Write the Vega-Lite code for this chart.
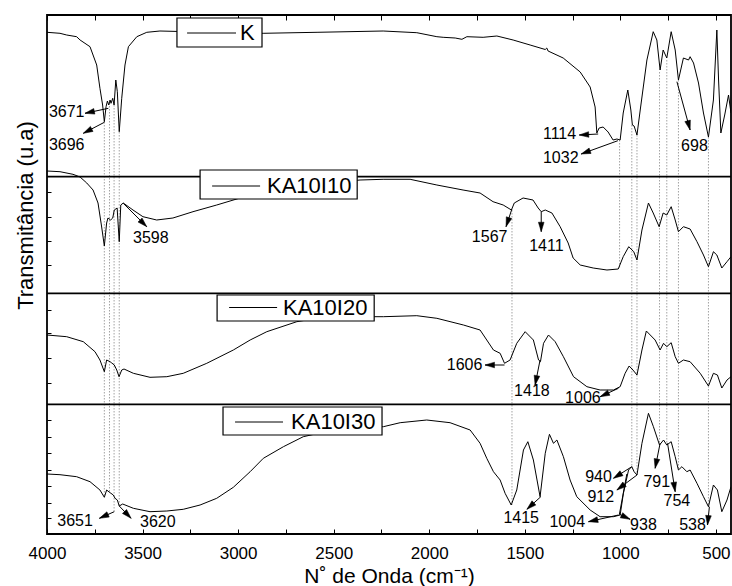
{
  "$schema": "https://vega.github.io/schema/vega-lite/v6.json",
  "width": 684,
  "height": 519,
  "autosize": {"type": "none"},
  "padding": {"left": 47, "top": 15, "right": 1, "bottom": 52},
  "background": "white",
  "config": {
    "font": "Liberation Sans",
    "view": {"stroke": "black", "strokeWidth": 1.8}
  },
  "datasets": {
    "spectra": [
      {"s":"K","w":4000,"t":501.7},{"s":"K","w":3932,"t":500.7},{"s":"K","w":3897,"t":499},{"s":"K","w":3845,"t":497.3},{"s":"K","w":3827,"t":494},{"s":"K","w":3775,"t":487.3},{"s":"K","w":3740,"t":469},{"s":"K","w":3723,"t":445.7},{"s":"K","w":3709,"t":429},{"s":"K","w":3700,"t":412.3},{"s":"K","w":3691,"t":427.3},{"s":"K","w":3684,"t":433},{"s":"K","w":3677,"t":429},{"s":"K","w":3670,"t":434},{"s":"K","w":3665,"t":430.7},{"s":"K","w":3656,"t":435.7},{"s":"K","w":3649,"t":429},{"s":"K","w":3640,"t":454},{"s":"K","w":3632,"t":442.3},{"s":"K","w":3622,"t":402.3},{"s":"K","w":3609,"t":435.7},{"s":"K","w":3592,"t":469},{"s":"K","w":3574,"t":487.3},{"s":"K","w":3530,"t":497.3},{"s":"K","w":3478,"t":501.7},{"s":"K","w":3409,"t":503},{"s":"K","w":3199,"t":502},{"s":"K","w":2869,"t":500.7},{"s":"K","w":2587,"t":501.7},{"s":"K","w":2241,"t":503},{"s":"K","w":2065,"t":501.3},{"s":"K","w":1960,"t":497.3},{"s":"K","w":1927,"t":496.7},{"s":"K","w":1864,"t":496},{"s":"K","w":1829,"t":494.7},{"s":"K","w":1803,"t":497.3},{"s":"K","w":1718,"t":496.7},{"s":"K","w":1646,"t":498},{"s":"K","w":1561,"t":494},{"s":"K","w":1472,"t":489},{"s":"K","w":1393,"t":484.5},{"s":"K","w":1385,"t":486},{"s":"K","w":1378,"t":483},{"s":"K","w":1299,"t":476},{"s":"K","w":1210,"t":462},{"s":"K","w":1158,"t":447},{"s":"K","w":1132,"t":427},{"s":"K","w":1123,"t":401},{"s":"K","w":1111,"t":406},{"s":"K","w":1090,"t":407},{"s":"K","w":1064,"t":402},{"s":"K","w":1038,"t":394},{"s":"K","w":1018,"t":395},{"s":"K","w":1001,"t":394},{"s":"K","w":985,"t":421},{"s":"K","w":961,"t":444},{"s":"K","w":945,"t":424},{"s":"K","w":937,"t":409},{"s":"K","w":928,"t":408},{"s":"K","w":913,"t":399},{"s":"K","w":896,"t":424},{"s":"K","w":861,"t":474},{"s":"K","w":828,"t":502.3},{"s":"K","w":809,"t":494},{"s":"K","w":792,"t":464},{"s":"K","w":776,"t":484},{"s":"K","w":757,"t":476},{"s":"K","w":734,"t":502.3},{"s":"K","w":713,"t":484},{"s":"K","w":696,"t":454},{"s":"K","w":670,"t":476},{"s":"K","w":643,"t":474},{"s":"K","w":635,"t":477.3},{"s":"K","w":617,"t":471},{"s":"K","w":591,"t":451},{"s":"K","w":565,"t":421},{"s":"K","w":539,"t":397},{"s":"K","w":513,"t":434},{"s":"K","w":495,"t":504},{"s":"K","w":486,"t":454},{"s":"K","w":474,"t":401},{"s":"K","w":454,"t":419},{"s":"K","w":434,"t":439},{"s":"K","w":421,"t":421},

      {"s":"KA10I10","w":4000,"t":363},{"s":"KA10I10","w":3932,"t":362.3},{"s":"KA10I10","w":3864,"t":359.7},{"s":"KA10I10","w":3827,"t":357},{"s":"KA10I10","w":3792,"t":351},{"s":"KA10I10","w":3759,"t":344},{"s":"KA10I10","w":3733,"t":331},{"s":"KA10I10","w":3714,"t":307},{"s":"KA10I10","w":3700,"t":288},{"s":"KA10I10","w":3688,"t":311},{"s":"KA10I10","w":3681,"t":316},{"s":"KA10I10","w":3667,"t":314},{"s":"KA10I10","w":3656,"t":316},{"s":"KA10I10","w":3648,"t":324},{"s":"KA10I10","w":3633,"t":326},{"s":"KA10I10","w":3622,"t":292.3},{"s":"KA10I10","w":3614,"t":329},{"s":"KA10I10","w":3601,"t":331},{"s":"KA10I10","w":3550,"t":324},{"s":"KA10I10","w":3498,"t":317.3},{"s":"KA10I10","w":3426,"t":314},{"s":"KA10I10","w":3341,"t":316},{"s":"KA10I10","w":3236,"t":322.3},{"s":"KA10I10","w":3112,"t":329},{"s":"KA10I10","w":2990,"t":336},{"s":"KA10I10","w":2676,"t":348},{"s":"KA10I10","w":2362,"t":354},{"s":"KA10I10","w":2241,"t":354.7},{"s":"KA10I10","w":2100,"t":354.7},{"s":"KA10I10","w":1960,"t":349},{"s":"KA10I10","w":1823,"t":344},{"s":"KA10I10","w":1734,"t":341},{"s":"KA10I10","w":1666,"t":332.3},{"s":"KA10I10","w":1613,"t":329},{"s":"KA10I10","w":1570,"t":324},{"s":"KA10I10","w":1555,"t":331},{"s":"KA10I10","w":1509,"t":336},{"s":"KA10I10","w":1457,"t":334},{"s":"KA10I10","w":1430,"t":326},{"s":"KA10I10","w":1414,"t":322.3},{"s":"KA10I10","w":1393,"t":324},{"s":"KA10I10","w":1358,"t":321},{"s":"KA10I10","w":1315,"t":307.3},{"s":"KA10I10","w":1273,"t":291},{"s":"KA10I10","w":1247,"t":276},{"s":"KA10I10","w":1210,"t":269},{"s":"KA10I10","w":1142,"t":266},{"s":"KA10I10","w":1070,"t":264},{"s":"KA10I10","w":1011,"t":265},{"s":"KA10I10","w":985,"t":277.3},{"s":"KA10I10","w":956,"t":287.3},{"s":"KA10I10","w":930,"t":282.3},{"s":"KA10I10","w":913,"t":274},{"s":"KA10I10","w":887,"t":304},{"s":"KA10I10","w":853,"t":331},{"s":"KA10I10","w":828,"t":321},{"s":"KA10I10","w":797,"t":307.3},{"s":"KA10I10","w":776,"t":321},{"s":"KA10I10","w":757,"t":319},{"s":"KA10I10","w":734,"t":327.3},{"s":"KA10I10","w":713,"t":314},{"s":"KA10I10","w":696,"t":302.3},{"s":"KA10I10","w":670,"t":307.3},{"s":"KA10I10","w":635,"t":305},{"s":"KA10I10","w":599,"t":292.3},{"s":"KA10I10","w":565,"t":279},{"s":"KA10I10","w":539,"t":267.3},{"s":"KA10I10","w":513,"t":282.3},{"s":"KA10I10","w":495,"t":279},{"s":"KA10I10","w":469,"t":266},{"s":"KA10I10","w":442,"t":272.3},{"s":"KA10I10","w":421,"t":277.3},

      {"s":"KA10I20","w":4000,"t":199},{"s":"KA10I20","w":3897,"t":197.3},{"s":"KA10I20","w":3810,"t":192.3},{"s":"KA10I20","w":3749,"t":182.3},{"s":"KA10I20","w":3723,"t":174},{"s":"KA10I20","w":3700,"t":162.3},{"s":"KA10I20","w":3688,"t":174},{"s":"KA10I20","w":3670,"t":172.3},{"s":"KA10I20","w":3661,"t":171},{"s":"KA10I20","w":3648,"t":169},{"s":"KA10I20","w":3635,"t":164},{"s":"KA10I20","w":3623,"t":157.3},{"s":"KA10I20","w":3609,"t":164},{"s":"KA10I20","w":3597,"t":165},{"s":"KA10I20","w":3548,"t":160.7},{"s":"KA10I20","w":3461,"t":156.7},{"s":"KA10I20","w":3373,"t":157.3},{"s":"KA10I20","w":3287,"t":160.7},{"s":"KA10I20","w":3164,"t":170.7},{"s":"KA10I20","w":3025,"t":184},{"s":"KA10I20","w":2937,"t":194},{"s":"KA10I20","w":2850,"t":202.3},{"s":"KA10I20","w":2693,"t":212.3},{"s":"KA10I20","w":2588,"t":215.7},{"s":"KA10I20","w":2414,"t":217.3},{"s":"KA10I20","w":2240,"t":217.3},{"s":"KA10I20","w":2065,"t":218.3},{"s":"KA10I20","w":1960,"t":215.7},{"s":"KA10I20","w":1821,"t":209},{"s":"KA10I20","w":1734,"t":204},{"s":"KA10I20","w":1699,"t":194},{"s":"KA10I20","w":1664,"t":184},{"s":"KA10I20","w":1629,"t":180.7},{"s":"KA10I20","w":1606,"t":170.7},{"s":"KA10I20","w":1577,"t":174},{"s":"KA10I20","w":1542,"t":190.7},{"s":"KA10I20","w":1498,"t":202.3},{"s":"KA10I20","w":1455,"t":194},{"s":"KA10I20","w":1428,"t":174},{"s":"KA10I20","w":1418,"t":172.3},{"s":"KA10I20","w":1402,"t":190.7},{"s":"KA10I20","w":1376,"t":199},{"s":"KA10I20","w":1341,"t":192.3},{"s":"KA10I20","w":1298,"t":177.3},{"s":"KA10I20","w":1245,"t":157.3},{"s":"KA10I20","w":1175,"t":147.3},{"s":"KA10I20","w":1106,"t":144},{"s":"KA10I20","w":1036,"t":144},{"s":"KA10I20","w":1001,"t":147.3},{"s":"KA10I20","w":975,"t":160.7},{"s":"KA10I20","w":954,"t":168},{"s":"KA10I20","w":934,"t":164},{"s":"KA10I20","w":913,"t":159},{"s":"KA10I20","w":887,"t":184},{"s":"KA10I20","w":864,"t":203},{"s":"KA10I20","w":818,"t":194},{"s":"KA10I20","w":792,"t":184},{"s":"KA10I20","w":774,"t":190.7},{"s":"KA10I20","w":757,"t":187.3},{"s":"KA10I20","w":734,"t":191.3},{"s":"KA10I20","w":713,"t":177.3},{"s":"KA10I20","w":696,"t":170.7},{"s":"KA10I20","w":670,"t":174},{"s":"KA10I20","w":635,"t":172.3},{"s":"KA10I20","w":582,"t":160.7},{"s":"KA10I20","w":539,"t":148},{"s":"KA10I20","w":513,"t":160.7},{"s":"KA10I20","w":492,"t":159},{"s":"KA10I20","w":469,"t":146},{"s":"KA10I20","w":442,"t":154},{"s":"KA10I20","w":421,"t":157.3},

      {"s":"KA10I30","w":4000,"t":60},{"s":"KA10I30","w":3932,"t":59.3},{"s":"KA10I30","w":3845,"t":57.3},{"s":"KA10I30","w":3775,"t":52.3},{"s":"KA10I30","w":3723,"t":44},{"s":"KA10I30","w":3700,"t":36.7},{"s":"KA10I30","w":3688,"t":44},{"s":"KA10I30","w":3670,"t":41.3},{"s":"KA10I30","w":3653,"t":39},{"s":"KA10I30","w":3644,"t":35.7},{"s":"KA10I30","w":3632,"t":34},{"s":"KA10I30","w":3622,"t":28},{"s":"KA10I30","w":3604,"t":30},{"s":"KA10I30","w":3548,"t":25.7},{"s":"KA10I30","w":3461,"t":22.3},{"s":"KA10I30","w":3373,"t":23},{"s":"KA10I30","w":3287,"t":24.7},{"s":"KA10I30","w":3199,"t":29},{"s":"KA10I30","w":3112,"t":35.7},{"s":"KA10I30","w":3025,"t":46.7},{"s":"KA10I30","w":2937,"t":62.3},{"s":"KA10I30","w":2868,"t":75.7},{"s":"KA10I30","w":2763,"t":87.3},{"s":"KA10I30","w":2659,"t":97.3},{"s":"KA10I30","w":2502,"t":104},{"s":"KA10I30","w":2327,"t":107},{"s":"KA10I30","w":2240,"t":107.3},{"s":"KA10I30","w":2152,"t":111.3},{"s":"KA10I30","w":2013,"t":114},{"s":"KA10I30","w":1891,"t":111.3},{"s":"KA10I30","w":1786,"t":104},{"s":"KA10I30","w":1734,"t":90.7},{"s":"KA10I30","w":1699,"t":75.7},{"s":"KA10I30","w":1664,"t":62.3},{"s":"KA10I30","w":1629,"t":54},{"s":"KA10I30","w":1603,"t":40.7},{"s":"KA10I30","w":1571,"t":29},{"s":"KA10I30","w":1542,"t":44},{"s":"KA10I30","w":1507,"t":84},{"s":"KA10I30","w":1484,"t":92.3},{"s":"KA10I30","w":1455,"t":74},{"s":"KA10I30","w":1420,"t":37.3},{"s":"KA10I30","w":1393,"t":80.7},{"s":"KA10I30","w":1371,"t":99.7},{"s":"KA10I30","w":1350,"t":90.7},{"s":"KA10I30","w":1332,"t":94},{"s":"KA10I30","w":1298,"t":77.3},{"s":"KA10I30","w":1263,"t":54},{"s":"KA10I30","w":1228,"t":37.3},{"s":"KA10I30","w":1158,"t":24},{"s":"KA10I30","w":1106,"t":17.3},{"s":"KA10I30","w":1036,"t":17.3},{"s":"KA10I30","w":1001,"t":19},{"s":"KA10I30","w":984,"t":40.7},{"s":"KA10I30","w":957,"t":64},{"s":"KA10I30","w":940,"t":67.3},{"s":"KA10I30","w":928,"t":62.3},{"s":"KA10I30","w":913,"t":59},{"s":"KA10I30","w":887,"t":90.7},{"s":"KA10I30","w":853,"t":120.7},{"s":"KA10I30","w":827,"t":107.3},{"s":"KA10I30","w":795,"t":89},{"s":"KA10I30","w":774,"t":94},{"s":"KA10I30","w":757,"t":89},{"s":"KA10I30","w":734,"t":92.3},{"s":"KA10I30","w":713,"t":77.3},{"s":"KA10I30","w":696,"t":64},{"s":"KA10I30","w":678,"t":67.3},{"s":"KA10I30","w":652,"t":62.3},{"s":"KA10I30","w":635,"t":64},{"s":"KA10I30","w":599,"t":50.7},{"s":"KA10I30","w":565,"t":37.3},{"s":"KA10I30","w":539,"t":27.3},{"s":"KA10I30","w":513,"t":49},{"s":"KA10I30","w":492,"t":44},{"s":"KA10I30","w":469,"t":22.3},{"s":"KA10I30","w":442,"t":34},{"s":"KA10I30","w":421,"t":47.3}
    ],
    "vlines": [
      {"w":3700,"t":412,"t2":37},{"w":3673,"t":431,"t2":41},{"w":3649,"t":432,"t2":22},{"w":3622,"t":402,"t2":27},
      {"w":1567,"t":324,"t2":29},{"w":1004,"t":394,"t2":265},{"w":940,"t":409,"t2":67},{"w":913,"t":399,"t2":59},
      {"w":795,"t":462,"t2":91},{"w":757,"t":474,"t2":89},{"w":696,"t":454,"t2":64},{"w":539,"t":397,"t2":27}
    ],
    "seps": [
      {"w":4000,"w2":421,"t":357.3},{"w":4000,"w2":421,"t":240.7},{"w":4000,"w2":421,"t":129.7}
    ],
    "legbox": [
      {"w":3320,"w2":2875,"t":516,"t2":487},
      {"w":3199,"w2":2377,"t":364,"t2":335},
      {"w":3110,"w2":2288,"t":239,"t2":213},
      {"w":3079,"w2":2247,"t":127,"t2":99}
    ],
    "legline": [
      {"w":3267,"w2":3011,"t":501},
      {"w":3136,"w2":2885,"t":348},
      {"w":3047,"w2":2796,"t":226.5},
      {"w":3016,"w2":2765,"t":112}
    ],
    "legtext": [
      {"name":"K","w":2990,"t":501},
      {"name":"KA10I10","w":2849,"t":348},
      {"name":"KA10I20","w":2765,"t":226.5},
      {"name":"KA10I30","w":2723,"t":112}
    ],
    "leaders": [
      {"w":966,"t":60,"w2":1005,"t2":19.7}
    ],
    "arrows": [
      {"w":3679,"t":425.7,"w2":3801,"t2":420.7},
      {"w":3700,"t":411.7,"w2":3810,"t2":400.7},
      {"w":1116,"t":400,"w2":1215,"t2":399},
      {"w":1013,"t":393.3,"w2":1205,"t2":380},
      {"w":704,"t":452.3,"w2":635,"t2":404},
      {"w":3601,"t":330.7,"w2":3478,"t2":307.3},
      {"w":1568,"t":324.7,"w2":1598,"t2":307.3},
      {"w":1414,"t":322.3,"w2":1414,"t2":302.3},
      {"w":1606,"t":169,"w2":1708,"t2":169},
      {"w":1420,"t":174,"w2":1446,"t2":149},
      {"w":1010,"t":145.7,"w2":1106,"t2":137.3},
      {"w":3648,"t":22.3,"w2":3726,"t2":15.7},
      {"w":3622,"t":28,"w2":3560,"t2":15.7},
      {"w":1416,"t":37.3,"w2":1489,"t2":24.7},
      {"w":1010,"t":19,"w2":1167,"t2":12.3},
      {"w":1005,"t":19.7,"w2":949,"t2":14.7},
      {"w":913,"t":59,"w2":1018,"t2":44},
      {"w":940,"t":67.3,"w2":1036,"t2":55.7},
      {"w":792,"t":90.7,"w2":818,"t2":65.7},
      {"w":753,"t":90.7,"w2":713,"t2":42.3},
      {"w":534,"t":27.3,"w2":544,"t2":9}
    ],
    "labels": [
      {"label":"3671","w":3990,"t":422},
      {"label":"3696","w":3990,"t":389},
      {"label":"1114","w":1405,"t":400},
      {"label":"1032","w":1405,"t":376.3},
      {"label":"698","w":682,"t":388},
      {"label":"3598","w":3550,"t":296},
      {"label":"1567","w":1777,"t":297.3},
      {"label":"1411","w":1477,"t":288.3},
      {"label":"1606","w":1908,"t":169},
      {"label":"1418","w":1556,"t":143.3},
      {"label":"1006","w":1289,"t":135.7},
      {"label":"3651","w":3946,"t":13.3},
      {"label":"3620","w":3513,"t":12.3},
      {"label":"1415","w":1612,"t":15.7},
      {"label":"1004","w":1371,"t":12.3},
      {"label":"938","w":949,"t":9},
      {"label":"912","w":1172,"t":36.7},
      {"label":"940","w":1184,"t":56.7},
      {"label":"791","w":879,"t":52.3},
      {"label":"754","w":774,"t":33.3},
      {"label":"538","w":692,"t":9}
    ]
  },
  "encoding": {
    "x": {"field":"w","type":"quantitative","scale":{"domain":[421,4000],"reverse":true,"nice":false,"zero":false},"axis":null},
    "y": {"field":"t","type":"quantitative","scale":{"domain":[0,519],"nice":false,"zero":false},"axis":null}
  },
  "layer": [
    {
      "data": {"name":"vlines"},
      "mark": {"type":"rule","color":"#8a8a8a","strokeWidth":0.8,"strokeDash":[1.5,1.5]},
      "encoding": {"y2": {"field":"t2"}}
    },
    {
      "data": {"name":"seps"},
      "mark": {"type":"rule","color":"black","strokeWidth":1.8},
      "encoding": {
        "x": {"field":"w","type":"quantitative","scale":{"domain":[421,4000],"reverse":true,"nice":false,"zero":false},
          "axis":{"orient":"top","values":[4000,3750,3500,3250,3000,2750,2500,2250,2000,1750,1500,1250,1000,750,500],"tickSize":-5,"tickColor":"black","labels":false,"domain":false,"grid":false,"title":null}},
        "x2": {"field":"w2"}
      }
    },
    {
      "data": {"name":"spectra"},
      "mark": {"type":"line","color":"black","strokeWidth":1,"clip":true},
      "encoding": {
        "x": {"field":"w","type":"quantitative","scale":{"domain":[421,4000],"reverse":true,"nice":false,"zero":false},
          "axis":{"orient":"bottom","values":[4000,3750,3500,3250,3000,2750,2500,2250,2000,1750,1500,1250,1000,750,500],"format":"d","labelExpr":"datum.value % 500 === 0 ? datum.label : ''","tickSize":-5,"tickColor":"black","domain":false,"grid":false,"labelFontSize":17,"labelColor":"black","labelPadding":16,"labelFlush":false,"labelOverlap":false,"labelBound":false,"title":"N˚ de Onda (cm⁻¹)","titleFontSize":21,"titleFontWeight":"normal","titleColor":"black","titleY":48.7,"titleBaseline":"alphabetic"}},
        "y": {"field":"t","type":"quantitative","scale":{"domain":[0,519],"nice":false,"zero":false},
          "axis":{"orient":"left","values":[342,317.3,293,269.3,224,200.7,175.7,150.7,114,97.3,80.7,64,48,31.3,15.7],"tickSize":-4,"tickColor":"black","labels":false,"domain":false,"grid":false,"title":"Transmitância (u.a)","titleFontSize":22,"titleFontWeight":"normal","titleColor":"black","titleX":-15,"titleY":200,"titleBaseline":"alphabetic","titleAngle":-90}},
        "detail": {"field":"s"}
      }
    },
    {
      "data": {"name":"legbox"},
      "mark": {"type":"rect","fill":"white","stroke":"black","strokeWidth":1.2},
      "encoding": {"x2": {"field":"w2"}, "y2": {"field":"t2"}}
    },
    {
      "data": {"name":"legline"},
      "mark": {"type":"rule","color":"black","strokeWidth":1},
      "encoding": {"x2": {"field":"w2"}}
    },
    {
      "data": {"name":"legtext"},
      "mark": {"type":"text","align":"left","baseline":"middle","fontSize":22,"color":"black"},
      "encoding": {"text": {"field":"name"}}
    },
    {
      "data": {"name":"leaders"},
      "mark": {"type":"rule","color":"black","strokeWidth":1},
      "encoding": {"x2": {"field":"w2"}, "y2": {"field":"t2"}}
    },
    {
      "data": {"name":"arrows"},
      "mark": {"type":"rule","color":"black","strokeWidth":1},
      "encoding": {"x2": {"field":"w2"}, "y2": {"field":"t2"}}
    },
    {
      "data": {"name":"arrows"},
      "transform": [{"calculate":"atan2(-(datum.w2-datum.w)*0.19106, datum.t2-datum.t)*180/PI","as":"ang"}],
      "mark": {"type":"point","shape":"M0,0L0.6,2L-0.6,2Z","filled":true,"fill":"black","stroke":"black","strokeWidth":0.5,"size":90,"opacity":1},
      "encoding": {
        "x": {"field":"w2","type":"quantitative","scale":{"domain":[421,4000],"reverse":true,"nice":false,"zero":false},"axis":null},
        "y": {"field":"t2","type":"quantitative","scale":{"domain":[0,519],"nice":false,"zero":false},"axis":null},
        "angle": {"field":"ang","type":"quantitative","scale":null}
      }
    },
    {
      "data": {"name":"labels"},
      "mark": {"type":"text","align":"left","baseline":"middle","fontSize":16,"color":"black"},
      "encoding": {"text": {"field":"label"}}
    }
  ],
  "resolve": {"axis": {"x":"independent","y":"independent"}}
}
